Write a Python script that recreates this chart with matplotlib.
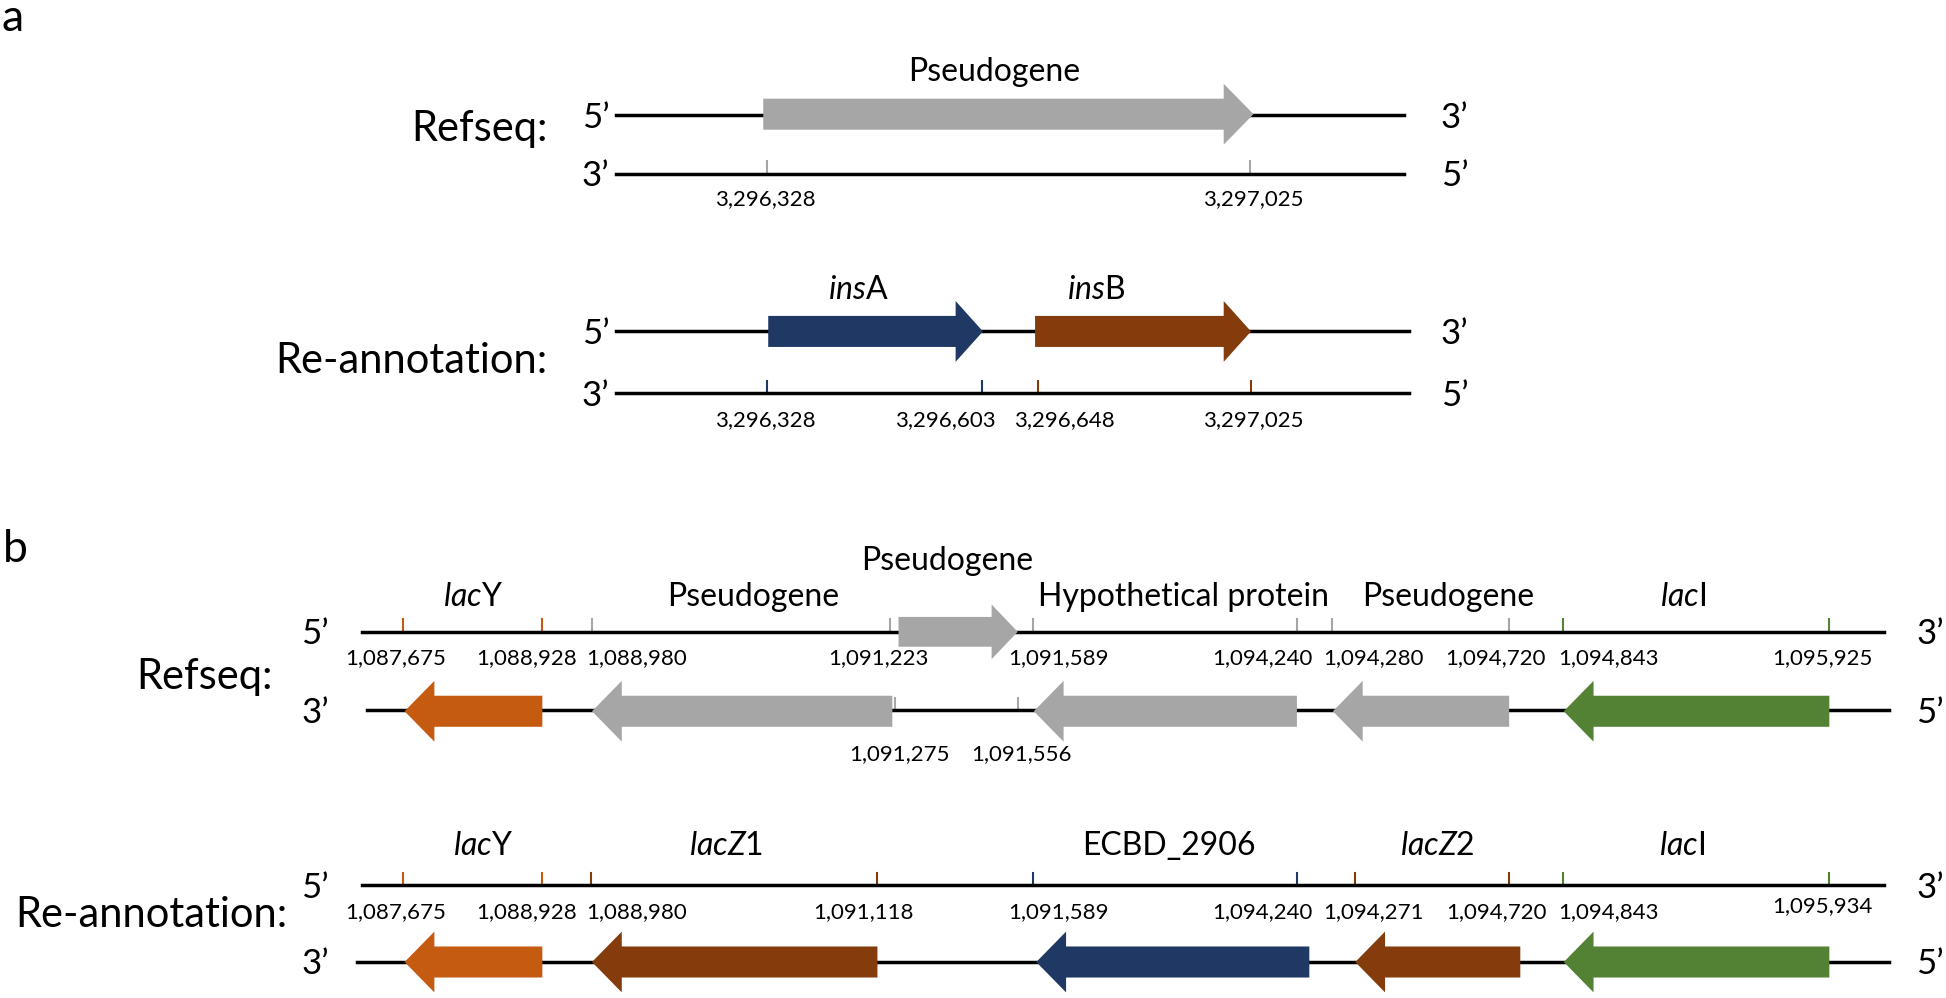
import matplotlib.pyplot as plt

plt.rcParams['font.family'] = ['Lato', 'DejaVu Sans']
plt.rcParams['mathtext.fontset'] = 'custom'
plt.rcParams['mathtext.rm'] = 'Lato'
plt.rcParams['mathtext.it'] = 'Lato:italic'

GRAY = '#A6A6A6'
NAVY = '#203864'
BROWN = '#843C0C'
ORANGE = '#C55A11'
GREEN = '#548235'

# ---- panel a (schematic x positions) ----
a_ref_names = ['Pseudogene']
a_ref_label_x = [801]
a_ref_start = [615]
a_ref_end = [1010]
a_ref_colors = [GRAY]
a_ref_ticks = [618, 1007]
a_ref_tick_colors = [GRAY, GRAY]
a_ref_coords = ['3,296,328', '3,297,025']
a_ref_coord_x = [617, 1010]

a_new_names = [r'$\mathit{ins}$A', r'$\mathit{ins}$B']
a_new_label_x = [692, 883]
a_new_start = [619, 834]
a_new_end = [792, 1008]
a_new_colors = [NAVY, BROWN]
a_new_ticks = [618, 791, 836, 1008]
a_new_tick_colors = [NAVY, NAVY, BROWN, BROWN]
a_new_coords = ['3,296,328', '3,296,603', '3,296,648', '3,297,025']
a_new_coord_x = [617, 762, 858, 1010]

# ---- panel b ----
b_ref_top_names = ['Pseudogene']
b_ref_top_label_x = [763]
b_ref_top_start = [724]
b_ref_top_end = [820]

b_ref_names = [r'$\mathit{lac}$Y', 'Pseudogene', 'Hypothetical protein', 'Pseudogene', r'$\mathit{lac}$I']
b_ref_label_x = [381, 607, 954, 1167, 1356]
b_ref_start = [326, 477, 833, 1074, 1260]
b_ref_end = [437, 719, 1045, 1216, 1474]
b_ref_colors = [ORANGE, GRAY, GRAY, GRAY, GREEN]
b_ref_ticks = [325, 437, 477, 717, 832, 1045, 1073, 1216, 1259, 1474]
b_ref_tick_colors = [ORANGE, ORANGE, GRAY, GRAY, GRAY, GRAY, GRAY, GRAY, GREEN, GREEN]
b_ref_coords = ['1,087,675', '1,088,928', '1,088,980', '1,091,223', '1,091,589',
                '1,094,240', '1,094,280', '1,094,720', '1,094,843', '1,095,925']
b_ref_coord_x = [319, 424, 513, 708, 853, 1017, 1107, 1205, 1296, 1468]
b_ref_low_ticks = [721, 820]
b_ref_low_coords = ['1,091,275', '1,091,556']
b_ref_low_coord_x = [725, 823]

b_new_italic = ['lac', 'lacZ1', '', 'lacZ2', 'lac']
b_new_plain = ['Y', '', 'ECBD_2906', '', 'I']
b_new_label_x = [389, 585, 942, 1158, 1355]
b_new_start = [326, 477, 835, 1092, 1260]
b_new_end = [437, 707, 1055, 1225, 1474]
b_new_colors = [ORANGE, BROWN, NAVY, BROWN, GREEN]
b_new_ticks = [325, 437, 476, 707, 832, 1045, 1092, 1216, 1259, 1474]
b_new_tick_colors = [ORANGE, ORANGE, BROWN, BROWN, NAVY, NAVY, BROWN, BROWN, GREEN, GREEN]
b_new_coords = ['1,087,675', '1,088,928', '1,088,980', '1,091,118', '1,091,589',
                '1,094,240', '1,094,271', '1,094,720', '1,094,843', '1,095,934']
b_new_coord_x = [319, 424, 513, 696, 853, 1017, 1107, 1206, 1296, 1468]


def arrow(ax, x0, x1, y, color, forward=True, body=12.5, head=24.5, hlen=24):
    # gene arrow as a filled polygon, pointing right (forward) or left
    if forward:
        xs = [x0, x1 - hlen, x1 - hlen, x1, x1 - hlen, x1 - hlen, x0]
    else:
        xs = [x1, x0 + hlen, x0 + hlen, x0, x0 + hlen, x0 + hlen, x1]
    ys = [y - body, y - body, y - head, y, y + head, y + body, y + body]
    ax.fill(xs, ys, color=color, lw=0, zorder=3)


def strand(ax, x0, x1, y, left, right, lx, rx):
    ax.plot([x0, x1], [y, y], color='black', lw=2.5, zorder=2)
    ax.text(lx, y + 2, left, ha='right', va='center', fontsize=25)
    ax.text(rx, y + 2, right, ha='left', va='center', fontsize=25)


def ticks(ax, xs, colors, y, h=10):
    for x, c in zip(xs, colors):
        ax.plot([x, x], [y, y - h], color=c, lw=1.5, zorder=1)


def coords(ax, labels, xs, y):
    for lab, x in zip(labels, xs):
        ax.text(x, y, lab, ha='center', va='baseline', fontsize=16)


def gene_labels(ax, names, xs, y):
    for name, x in zip(names, xs):
        ax.text(x, y, name, ha='center', va='baseline', fontsize=23)


fig = plt.figure(figsize=(19.46, 9.98), dpi=100)
ax = fig.add_axes([0, 0, 1, 1])
ax.set_xlim(0, 1568)
ax.set_ylim(804, 0)
ax.axis('off')

# panel a
ax.text(10, 15, 'a', fontsize=32, ha='center', va='center')
ax.text(441, 104, 'Refseq:', fontsize=30, ha='right', va='center')
strand(ax, 496, 1131, 93, '5\u2019', '3\u2019', 491, 1161)
strand(ax, 496, 1131, 140, '3\u2019', '5\u2019', 491, 1161)
for s, e, c in zip(a_ref_start, a_ref_end, a_ref_colors):
    arrow(ax, s, e, 92, c, True)
gene_labels(ax, a_ref_names, a_ref_label_x, 65)
ticks(ax, a_ref_ticks, a_ref_tick_colors, 140)
coords(ax, a_ref_coords, a_ref_coord_x, 165)

ax.text(441, 291, 'Re-annotation:', fontsize=30, ha='right', va='center')
strand(ax, 496, 1135, 267, '5\u2019', '3\u2019', 491, 1161)
strand(ax, 496, 1135, 317, '3\u2019', '5\u2019', 491, 1161)
for s, e, c in zip(a_new_start, a_new_end, a_new_colors):
    arrow(ax, s, e, 267, c, True, hlen=22)
gene_labels(ax, a_new_names, a_new_label_x, 241)
ticks(ax, a_new_ticks, a_new_tick_colors, 317)
coords(ax, a_new_coords, a_new_coord_x, 343)

# panel b
ax.text(12, 443, 'b', fontsize=32, ha='center', va='center')
ax.text(220, 545, 'Refseq:', fontsize=30, ha='right', va='center')
strand(ax, 292, 1518, 509, '5\u2019', '3\u2019', 265, 1544)
strand(ax, 296, 1522, 572, '3\u2019', '5\u2019', 265, 1544)
for s, e in zip(b_ref_top_start, b_ref_top_end):
    arrow(ax, s, e, 509, GRAY, True, body=12, head=22, hlen=21)
gene_labels(ax, b_ref_top_names, b_ref_top_label_x, 459)
for s, e, c in zip(b_ref_start, b_ref_end, b_ref_colors):
    arrow(ax, s, e, 573, c, False)
gene_labels(ax, b_ref_names, b_ref_label_x, 488)
ticks(ax, b_ref_ticks, b_ref_tick_colors, 509)
coords(ax, b_ref_coords, b_ref_coord_x, 535)
ticks(ax, b_ref_low_ticks, [GRAY, GRAY], 572)
coords(ax, b_ref_low_coords, b_ref_low_coord_x, 612)

b_new_names = [(r'$\mathit{%s}$' % it if it else '') + pl for it, pl in zip(b_new_italic, b_new_plain)]
ax.text(232, 737, 'Re-annotation:', fontsize=30, ha='right', va='center')
strand(ax, 292, 1518, 713, '5\u2019', '3\u2019', 265, 1544)
strand(ax, 288, 1522, 775, '3\u2019', '5\u2019', 265, 1544)
for s, e, c in zip(b_new_start, b_new_end, b_new_colors):
    arrow(ax, s, e, 775, c, False)
gene_labels(ax, b_new_names, b_new_label_x, 689)
ticks(ax, b_new_ticks, b_new_tick_colors, 713)
coords(ax, b_new_coords[:-1], b_new_coord_x[:-1], 740)
coords(ax, b_new_coords[-1:], b_new_coord_x[-1:], 735)

fig.savefig('out.png', dpi=100)
